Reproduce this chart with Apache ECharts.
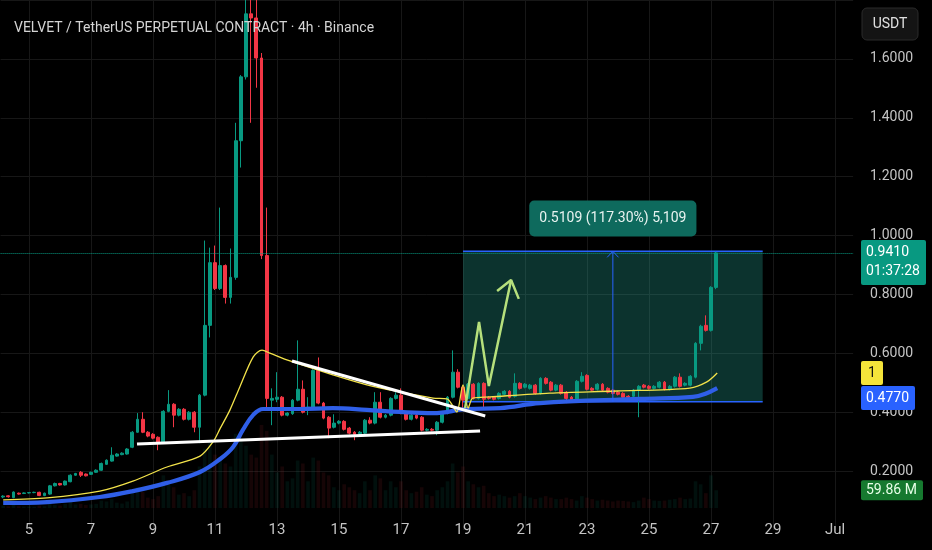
<!DOCTYPE html>
<html><head><meta charset="utf-8">
<script src="https://cdn.jsdelivr.net/npm/echarts@6.0.0/dist/echarts.min.js"></script>
<style>html,body{margin:0;padding:0;background:#000;}#c{width:932px;height:550px;}</style>
</head><body><div id="c"></div>
<script>
const FONT = "Roboto,sans-serif";
const titleText = 'VELVET / TetherUS PERPETUAL CONTRACT · 4h · Binance';
const dayLabels = ['5','7','9','11','13','15','17','19','21','23','25','27','29','Jul'];
const slotCount = 165, firstLabelSlot = 5, labelStep = 12;

const open = [
0.112,0.116,0.110,0.125,0.124,0.126,0.127,0.128,0.117,0.122,
0.150,0.158,0.153,0.164,0.186,0.196,0.190,0.189,0.196,0.203,
0.223,0.234,0.251,0.256,0.258,0.281,0.332,0.376,0.332,0.325,
0.315,0.295,0.403,0.427,0.390,0.410,0.376,0.400,0.349,0.458,
0.695,0.908,0.820,0.898,0.790,0.858,1.322,1.539,1.753,1.739,
1.603,0.932,0.441,0.444,0.451,0.390,0.395,0.441,0.478,0.410,
0.414,0.542,0.431,0.383,0.349,0.363,0.369,0.346,0.332,0.327,
0.329,0.373,0.363,0.434,0.383,0.390,0.447,0.458,0.397,0.376,
0.390,0.383,0.339,0.342,0.339,0.366,0.397,0.451,0.536,0.485,
0.447,0.495,0.447,0.498,0.451,0.451,0.447,0.461,0.471,0.454,
0.498,0.485,0.481,0.492,0.464,0.515,0.502,0.475,0.492,0.468,
0.451,0.441,0.505,0.525,0.481,0.478,0.495,0.481,0.475,0.468,
0.464,0.454,0.454,0.475,0.492,0.488,0.481,0.485,0.502,0.478,
0.488,0.519,0.492,0.492,0.519,0.634,0.695,0.678,0.824];
const close = [
0.115,0.113,0.129,0.122,0.126,0.127,0.128,0.117,0.125,0.150,
0.158,0.153,0.166,0.186,0.192,0.186,0.184,0.196,0.203,0.226,
0.237,0.254,0.258,0.261,0.275,0.332,0.376,0.332,0.319,0.312,
0.295,0.403,0.427,0.390,0.410,0.376,0.400,0.349,0.458,0.695,
0.908,0.820,0.898,0.790,0.858,1.322,1.539,1.753,1.739,1.603,
0.932,0.447,0.447,0.451,0.390,0.397,0.441,0.478,0.400,0.417,
0.542,0.431,0.380,0.346,0.363,0.369,0.342,0.329,0.325,0.332,
0.373,0.363,0.434,0.383,0.390,0.447,0.458,0.397,0.376,0.390,
0.380,0.339,0.342,0.339,0.366,0.397,0.451,0.536,0.485,0.441,
0.495,0.447,0.498,0.444,0.447,0.444,0.464,0.471,0.451,0.498,
0.481,0.495,0.492,0.464,0.515,0.498,0.475,0.492,0.464,0.447,
0.441,0.505,0.522,0.478,0.475,0.495,0.475,0.468,0.464,0.461,
0.451,0.451,0.475,0.488,0.485,0.481,0.488,0.502,0.478,0.488,
0.519,0.488,0.498,0.522,0.634,0.692,0.678,0.824,0.941];
const low = [
0.108,0.110,0.108,0.120,0.122,0.124,0.125,0.115,0.115,0.120,
0.148,0.151,0.151,0.162,0.184,0.180,0.182,0.187,0.194,0.201,
0.221,0.232,0.249,0.254,0.256,0.278,0.330,0.329,0.315,0.308,
0.271,0.292,0.400,0.349,0.386,0.372,0.372,0.332,0.295,0.454,
0.654,0.815,0.815,0.769,0.769,0.850,1.231,1.530,1.383,1.502,
0.920,0.407,0.356,0.434,0.386,0.386,0.391,0.437,0.396,0.390,
0.410,0.427,0.376,0.312,0.345,0.359,0.338,0.325,0.305,0.323,
0.325,0.359,0.359,0.379,0.379,0.386,0.443,0.393,0.372,0.372,
0.376,0.335,0.335,0.335,0.322,0.362,0.393,0.447,0.481,0.410,
0.443,0.443,0.443,0.417,0.443,0.440,0.443,0.457,0.447,0.450,
0.477,0.481,0.477,0.460,0.460,0.494,0.471,0.471,0.460,0.431,
0.437,0.437,0.501,0.474,0.471,0.474,0.471,0.464,0.460,0.457,
0.447,0.447,0.450,0.383,0.481,0.477,0.477,0.481,0.474,0.474,
0.484,0.484,0.488,0.488,0.515,0.610,0.674,0.674,0.818];
const high = [
0.118,0.118,0.131,0.127,0.128,0.129,0.130,0.130,0.127,0.153,
0.161,0.160,0.168,0.189,0.194,0.200,0.192,0.198,0.206,0.229,
0.240,0.281,0.261,0.264,0.278,0.336,0.397,0.400,0.336,0.329,
0.318,0.407,0.475,0.431,0.414,0.414,0.404,0.404,0.462,0.983,
0.959,0.966,1.095,0.902,0.956,1.383,1.545,1.850,1.850,1.820,
1.620,1.095,0.481,0.536,0.455,0.400,0.445,0.644,0.508,0.451,
0.546,0.586,0.435,0.387,0.393,0.373,0.373,0.350,0.336,0.336,
0.377,0.383,0.468,0.468,0.394,0.451,0.468,0.481,0.401,0.394,
0.394,0.387,0.346,0.346,0.370,0.401,0.455,0.610,0.546,0.489,
0.499,0.499,0.502,0.502,0.455,0.455,0.468,0.475,0.475,0.532,
0.502,0.499,0.496,0.496,0.519,0.519,0.506,0.496,0.496,0.472,
0.455,0.509,0.536,0.529,0.485,0.499,0.499,0.485,0.479,0.472,
0.468,0.458,0.479,0.492,0.496,0.492,0.492,0.506,0.506,0.492,
0.523,0.532,0.502,0.526,0.638,0.697,0.729,0.828,0.945];
const volume = [
8,6,12,6,5,5,4,8,6,20,
10,8,14,22,12,14,10,12,14,25,
22,30,18,15,22,60,70,55,35,30,
40,110,80,70,45,50,40,60,140,200,
230,180,160,150,140,250,230,210,180,170,
280,260,180,120,140,90,100,160,150,90,
170,160,120,110,70,60,80,70,60,50,
90,60,110,100,60,90,70,90,60,50,
55,70,45,40,60,70,90,150,120,140,
90,80,70,75,50,40,45,40,35,40,
50,40,35,30,35,40,35,30,30,35,
30,25,40,35,30,25,28,25,22,25,
24,22,20,25,35,30,25,24,25,28,
30,35,30,32,90,80,50,110,59.86];

// moving averages [slot, price]
const maFast = [[0,0.102],[8.5,0.109],[18.7,0.132],[25.1,0.166],[31.7,0.214],[38.1,0.251],[40.6,0.299],[42,0.345],[43.9,0.408],[45.8,0.486],[48.4,0.588],[50.1,0.611],[51.6,0.601],[55.5,0.574],[63.8,0.527],[70.4,0.493],[76.8,0.469],[83.2,0.448],[85.9,0.445],[86.9,0.425],[87.8,0.401],[89,0.493],[90,0.414],[90.9,0.448],[94.2,0.452],[105.8,0.465],[118.8,0.472],[132.9,0.482],[136.2,0.503],[138.2,0.533]];
const maSlow = [[0,0.092],[8.5,0.095],[18.7,0.112],[25.1,0.132],[31.7,0.160],[38.1,0.197],[42,0.241],[44.5,0.282],[46.4,0.340],[48.4,0.391],[50.3,0.411],[57.4,0.411],[63.8,0.414],[70.4,0.408],[76.8,0.401],[83.2,0.397],[89.8,0.411],[96.2,0.414],[103.9,0.431],[123.3,0.445],[133.5,0.452],[135.8,0.462],[138.2,0.482]];
const maSlowValue = 0.4770;
const maFastLabel = '1';

// drawings
const supportLine = [[25.9,0.292],[92.3,0.336]];
const resistLine = [[55.9,0.574],[93.3,0.387]];
const zigzagPath = [[89.4,0.414],[92.1,0.707],[94.0,0.489],[98.3,0.849]];
const zigzagHead = [[95.6,0.812],[98.3,0.849],[99.8,0.785]];
const boxSlots = [89, 147];
const boxPrices = [0.4355, 0.9464];
const arrowSlot = 118;
const arrowHead = [[116.9,0.926],[118,0.9464],[119.1,0.926]];
const measureText = '0.5109 (117.30%) 5,109';
const measureLabelPrice = 1.058;
const countdown = '01:37:28';
const currency = 'USDT';

const cats = [];
for (let i = 0; i < slotCount; i++) cats.push('s' + i);
function labelAt(i) {
  if (i < firstLabelSlot || (i - firstLabelSlot) % labelStep !== 0) return null;
  const k = (i - firstLabelSlot) / labelStep;
  return k < dayLabels.length ? dayLabels[k] : null;
}

const UP = '#089981', DOWN = '#f23645';
const gridLine = '#171717';
const candleData = open.map((o, i) => [o, close[i], low[i], high[i]]);
const volData = volume.map((v, i) => ({value: v, itemStyle: {color: close[i] >= open[i] ? 'rgba(8,153,129,0.1)' : 'rgba(242,54,69,0.09)'}}));
const splitColors = ['rgba(0,0,0,0)'];
for (let i = 0; i < 9; i++) splitColors.push(gridLine);

const chart = echarts.init(document.getElementById('c'));
const lineS = (data, color, width, z, extra) => Object.assign({
  type: 'line', xAxisIndex: 1, yAxisIndex: 0, data: data, symbol: 'none', silent: true,
  lineStyle: {color: color, width: width}, z: z, animation: false
}, extra || {});

chart.setOption({
  backgroundColor: '#000000',
  animation: false,
  title: {text: titleText, left: 9, top: 16, textStyle: {color: '#d4d4d4', fontSize: 14, fontWeight: 'normal', fontFamily: FONT}},
  grid: [{left: 0.6, width: 852.5, top: 0, height: 530}, {left: 0.6, width: 852.5, top: 330, height: 178}],
  xAxis: [
    {type: 'category', gridIndex: 0, data: cats, boundaryGap: true,
     axisLine: {show: false}, axisTick: {show: false},
     axisLabel: {interval: (i) => labelAt(i) !== null, formatter: (v, i) => labelAt(i) || '', margin: 0,
                 verticalAlign: 'middle', color: '#c4c4c4', fontSize: 15, fontFamily: FONT},
     splitLine: {show: true, interval: (i) => labelAt(i) !== null, alignWithLabel: true, lineStyle: {color: gridLine, width: 1}}},
    {type: 'value', gridIndex: 0, min: -0.5, max: slotCount - 0.5, show: false},
    {type: 'category', gridIndex: 1, data: cats, boundaryGap: true, show: false}
  ],
  yAxis: [
    {type: 'value', gridIndex: 0, position: 'right', min: 0, max: 1.8, interval: 0.2,
     axisLine: {show: false}, axisTick: {show: false},
     axisLabel: {margin: 17, color: '#c4c4c4', fontSize: 14, fontFamily: FONT,
                 formatter: (v) => (v < 0.1 || v > 1.7) ? '' : v.toFixed(4)},
     splitLine: {show: true, lineStyle: {color: splitColors, width: 1}}},
    {type: 'value', gridIndex: 1, min: 0, max: 600, show: false}
  ],
  series: [
    {type: 'bar', xAxisIndex: 2, yAxisIndex: 1, data: volData, barWidth: '70%', silent: true, z: 1},
    lineS([[boxSlots[0], boxPrices[1]], [boxSlots[1], boxPrices[1]]], '#2962ff', 1.5, 3, {
      markArea: {silent: true, itemStyle: {color: 'rgba(40,170,152,0.3)'},
                 data: [[{coord: [boxSlots[0], boxPrices[0]]}, {coord: [boxSlots[1], boxPrices[1]]}]]}}),
    lineS([[boxSlots[0], boxPrices[0]], [boxSlots[1], boxPrices[0]]], '#2962ff', 1.5, 3),
    {type: 'candlestick', xAxisIndex: 0, yAxisIndex: 0, data: candleData, barWidth: '64%', silent: true, z: 4,
     itemStyle: {color: UP, color0: DOWN, borderColor: UP, borderColor0: DOWN, borderWidth: 1},
     markLine: {silent: true, symbol: 'none', label: {show: false}, lineStyle: {type: 'dotted', color: UP, width: 1},
                data: [{yAxis: close[close.length - 1]}]}},
    lineS(maSlow, '#2f5fe8', 4.2, 5, {smooth: 0.4}),
    lineS(maFast, '#f2e24a', 1.3, 6, {smooth: 0.3}),
    lineS(supportLine, '#ffffff', 3, 7),
    lineS(resistLine, '#ffffff', 3, 7),
    lineS(zigzagPath, '#b6e07c', 2.5, 8),
    lineS(zigzagHead, '#b6e07c', 2.5, 8),
    lineS([[arrowSlot, boxPrices[0]], [arrowSlot, boxPrices[1]]], '#2962ff', 1, 8, {
      markPoint: {silent: true, data: [{coord: [arrowSlot, measureLabelPrice], symbol: 'rect', symbolSize: 1,
        itemStyle: {color: 'rgba(0,0,0,0)'},
        label: {show: true, position: 'inside', formatter: measureText, color: '#e8f3f0', fontSize: 14, fontFamily: FONT,
                backgroundColor: '#0e6a5d', borderRadius: 5, padding: [11, 10, 11, 10]}}]}}),
    lineS(arrowHead, '#2962ff', 1, 8)
  ]
});

const lastClose = close[close.length - 1];
const yPrice = chart.convertToPixel({yAxisIndex: 0}, lastClose);
const yFast = chart.convertToPixel({yAxisIndex: 0}, maFast[maFast.length - 1][1]);
const yVol = chart.convertToPixel({yAxisIndex: 1}, volume[volume.length - 1]);
const txt = (x, y, text, fill, align) => ({type: 'text', x: x, y: y, z: 100, silent: true,
  style: {text: text, fill: fill, font: '14px ' + FONT, textAlign: align || 'left', textVerticalAlign: 'middle', align: align || 'left', verticalAlign: 'middle'}});
const rect = (x, y, w, h, fill, r, stroke) => ({type: 'rect', z: 99, silent: true, shape: {x: x, y: y, width: w, height: h, r: r || 2},
  style: {fill: fill, stroke: stroke || null, lineWidth: stroke ? 1 : 0}});
chart.setOption({graphic: [
  rect(862, 8, 56, 32, '#141414', 5, '#2a2a2a'),
  txt(890, 24, currency, '#e0e0e0', 'center'),
  rect(861, yPrice - 13, 65, 45, UP),
  txt(866, yPrice, lastClose.toFixed(4), '#ffffff'),
  txt(866, yPrice + 19, countdown, '#ffffff'),
  rect(861, yFast - 12, 22, 24, '#f5e43a'),
  txt(872, yFast, maFastLabel, '#111111', 'center'),
  rect(861, yFast + 13, 54, 24, '#2962ff'),
  txt(866, yFast + 25, maSlowValue.toFixed(4), '#ffffff'),
  rect(861, yVol - 10, 62, 20, '#16792f'),
  txt(866, yVol, volume[volume.length - 1].toFixed(2) + ' M', '#e8ffe8')
]});
</script></body></html>
